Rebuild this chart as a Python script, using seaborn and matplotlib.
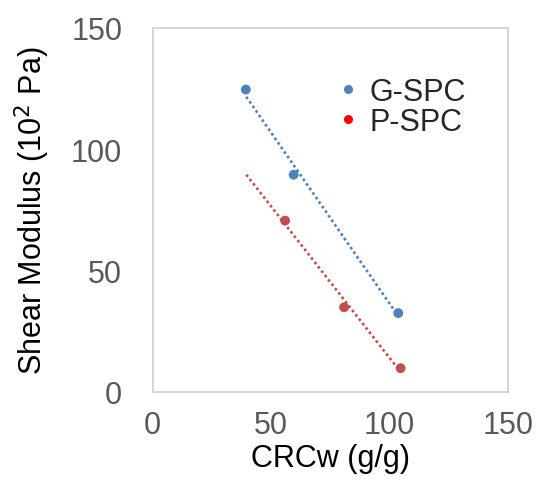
import numpy as np
import pandas as pd
import matplotlib
matplotlib.use("Agg")
import matplotlib.pyplot as plt
from matplotlib.lines import Line2D
import seaborn as sns

# Measured values
series_names = ["G-SPC", "P-SPC"]
g_crcw = [39.3, 59.5, 103.7]
g_modulus = [124.6, 89.5, 32.5]
p_crcw = [55.9, 80.8, 104.7]
p_modulus = [70.6, 34.9, 9.8]

x_ticks = [0, 50, 100, 150]
y_ticks = [0, 50, 100, 150]

# Trendlines start at the same CRCw for both series
trend_start = 39.5

point_colors = {"G-SPC": "#4F81BD", "P-SPC": "#C0504D"}
legend_colors = {"G-SPC": "#4F81BD", "P-SPC": "#FF0000"}

df = pd.DataFrame({
    "CRCw": g_crcw + p_crcw,
    "G": g_modulus + p_modulus,
    "Sample": [series_names[0]] * len(g_crcw) + [series_names[1]] * len(p_crcw),
})

sns.set_theme(style="white")
plt.rcParams["font.family"] = ["Liberation Sans", "DejaVu Sans"]

fig = plt.figure(figsize=(5.38, 4.81), dpi=100)
ax = fig.add_axes([0.284, 0.183, 0.660, 0.757])

# Linear trendlines (dotted)
for name, xs, ys in [(series_names[0], g_crcw, g_modulus),
                     (series_names[1], p_crcw, p_modulus)]:
    slope, intercept = np.polyfit(xs, ys, 1)
    tx = np.array([trend_start, max(xs)])
    ax.plot(tx, slope * tx + intercept, linestyle=(0, (1, 1.1)), lw=1.9,
            color=point_colors[name], zorder=2)

sns.scatterplot(data=df, x="CRCw", y="G", hue="Sample", palette=point_colors,
                s=50, edgecolor="none", legend=False, ax=ax, zorder=3)

ax.set_xlim(0, 150)
ax.set_ylim(0, 150)
ax.set_xticks(x_ticks)
ax.set_yticks(y_ticks)
ax.tick_params(axis="both", direction="in", length=8, width=1, color="#BFBFBF",
               labelsize=22, labelcolor="#595959")
ax.tick_params(axis="y", pad=22)
ax.tick_params(axis="x", pad=13)

for side in ["left", "right", "top", "bottom"]:
    ax.spines[side].set_visible(True)
    ax.spines[side].set_color("#D0D0D0")
    ax.spines[side].set_linewidth(1.2)

ax.set_xlabel("CRCw (g/g)", fontsize=22, color="black", labelpad=2)
ax.set_ylabel("Shear Modulus (10$^2$ Pa)", fontsize=22, color="black", labelpad=14)

handles = [Line2D([], [], marker="o", linestyle="none", markersize=6.5,
                  markerfacecolor=legend_colors[n], markeredgecolor="none", label=n)
           for n in series_names]
ax.legend(handles=handles, loc="upper left", bbox_to_anchor=(0.515, 0.865),
          frameon=False, fontsize=22, handletextpad=0.3, labelspacing=0.0,
          borderaxespad=0, borderpad=0, handlelength=0.8)

fig.savefig("out.png", dpi=100)
